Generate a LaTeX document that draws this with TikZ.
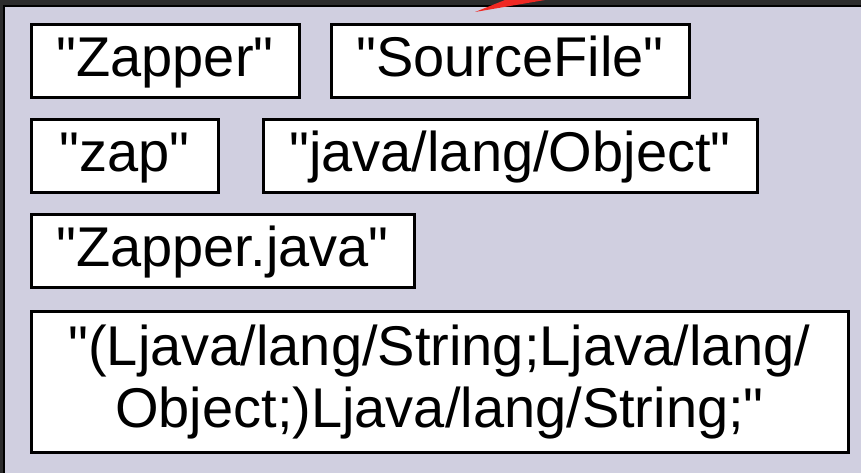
\documentclass[tikz,border=0pt]{standalone}
\usepackage{fontspec}
\setmainfont{Liberation Sans}[Ligatures=TeXOff]
\definecolor{pool}{RGB}{208,207,224}
\definecolor{rim}{RGB}{44,44,44}
\definecolor{arrowred}{RGB}{240,40,35}
\tikzset{
  entry/.style={draw=black, fill=white, line width=3pt, rectangle,
    inner sep=0pt, font=\fontsize{56}{62}\selectfont,
    text height=42pt, text depth=11pt},
}
\begin{document}
\begin{tikzpicture}[x=1pt,y=-1pt]
  % constant pool background with its frame
  \fill[pool] (0,0) rectangle (861,473);
  \useasboundingbox (0,0) rectangle (861,473);
  \fill[rim] (0,0) rectangle (861,7);
  \fill[rim] (0,0) rectangle (5,473);
  \draw[black, line width=1.5pt] (861,6.2) -- (4.2,6.2) -- (4.2,473);
  % incoming arrow tip
  \fill[arrowred] (475,12) -- (505,0) -- (545,0) -- cycle;

  % string entries
  \node[entry, minimum width=268pt, minimum height=73pt] (zapper) at (165,61.5) {"Zapper"};
  \node[entry, minimum width=358pt, minimum height=73pt] (srcfile) at (510,61.5) {"SourceFile"};
  \node[entry, minimum width=187pt, minimum height=72pt] (zap) at (124.5,156) {"zap"};
  \node[entry, minimum width=494pt, minimum height=72pt] (object) at (510,156) {"java/lang/Object"};
  \node[entry, minimum width=383pt, minimum height=73pt] (zjava) at (222.5,250.5) {"Zapper.java"};
  \node[entry, minimum width=817pt, minimum height=141pt, align=center,
        text height=, text depth=] (sig) at (439.5,382)
        {"(Ljava/lang/String;Ljava/lang/\\Object;)Ljava/lang/String;"};
\end{tikzpicture}
\end{document}
